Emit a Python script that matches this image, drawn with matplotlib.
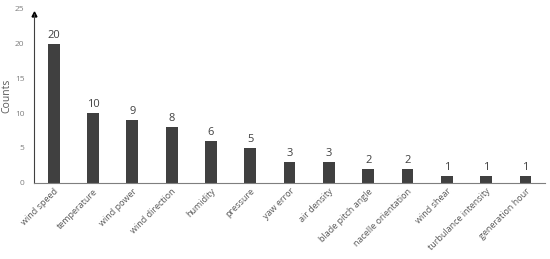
import matplotlib
matplotlib.use("Agg")
import matplotlib.pyplot as plt
import numpy as np

plt.rcParams["font.family"] = ["Open Sans", "DejaVu Sans"]

# Data
features = ["wind speed", "temperature", "wind power", "wind direction", "humidity",
            "pressure", "yaw error", "air density", "blade pitch angle",
            "nacelle orientation", "wind shear", "turbulance intensity", "generation hour"]
counts = [20, 10, 9, 8, 6, 5, 3, 3, 2, 2, 1, 1, 1]

bar_color = "#404040"
axis_color = "#7f7f7f"
text_color = "#595959"

fig = plt.figure(figsize=(5.5, 2.59), dpi=100)
ax = fig.add_axes([0.062, 0.295, 0.929, 0.671])

x = np.arange(len(features))
ax.bar(x, counts, width=0.3, color=bar_color)
for xi, c in zip(x, counts):
    ax.text(xi, c + 0.4, str(c), ha="center", va="bottom", fontsize=8, color="#404040")

ax.set_xlim(-0.5, len(features) - 0.5)
ax.set_ylim(0, 25)
ax.set_yticks([0, 5, 10, 15, 20, 25])
ax.set_xticks(x)
ax.set_xticklabels(features, rotation=45, ha="right", rotation_mode="anchor",
                   fontsize=6.5, color=text_color)
ax.tick_params(axis="x", length=0, pad=3)
ax.tick_params(axis="y", length=0, pad=7, labelsize=6, labelcolor=axis_color)
ax.set_ylabel("Counts", fontsize=7.5, color=text_color, labelpad=2)

for side in ["top", "right"]:
    ax.spines[side].set_visible(False)
ax.spines["left"].set_color("#404040")
ax.spines["bottom"].set_color(axis_color)
ax.spines["left"].set_linewidth(0.8)
ax.spines["bottom"].set_linewidth(0.8)
ax.spines["left"].set_bounds(0, 24.2)
# arrowhead on the y axis
ax.plot(0, 24.2, marker="^", color="black", markersize=3.5,
        transform=ax.get_yaxis_transform(), clip_on=False)

fig.savefig("out.png", dpi=100)
